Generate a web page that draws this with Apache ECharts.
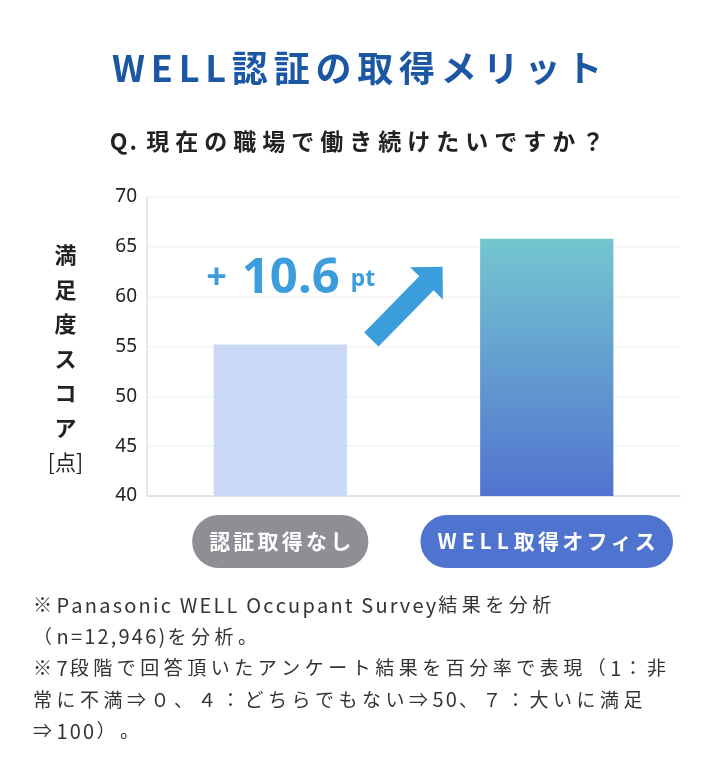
<!DOCTYPE html>
<html><head><meta charset="utf-8">
<script src="https://cdn.jsdelivr.net/npm/echarts@6/dist/echarts.min.js"></script>
<style>html,body{margin:0;padding:0;background:#fff}#c{width:720px;height:782px}</style>
</head><body><div id="c"></div>
<script>
const titleText = 'WELL認証の取得メリット';
const subtitleText = 'Q. 現在の職場で働き続けたいですか？';
const categories = ['認証取得なし', 'WELL取得オフィス'];
const values = [55.2, 65.8];
const yTicks = [40, 45, 50, 55, 60, 65, 70];
const yName = ['満', '足', '度', 'ス', 'コ', 'ア'];
const yUnit = '[点]';
const diffLabel = ['+', '10.6', 'pt'];
const notes = [
  '※Panasonic WELL Occupant Survey結果を分析',
  '（n=12,946)を分析。',
  '※7段階で回答頂いたアンケート結果を百分率で表現（1：非',
  '常に不満⇒０、４：どちらでもない⇒50、７：大いに満足',
  '⇒100）。'
];

// wrap every character in its own rich token so spacing (padding) applies per character;
// ASCII characters get their own style (different spacing)
function spaced(s, style, asciiStyle) {
  return Array.from(s).map(c => {
    const st = (asciiStyle && c.charCodeAt(0) < 128) ? asciiStyle : style;
    return '{' + st + '|' + c + '}';
  }).join('');
}
const JP = '"Noto Sans CJK JP", "Noto Sans", sans-serif';
const jpStyle = (size, weight, color, gap) =>
  ({fontFamily: JP, fontSize: size, fontWeight: weight, color: color, padding: [0, gap, 0, 0]});

const chart = echarts.init(document.getElementById('c'), null, {renderer: 'canvas'});
const pillBase = {fontFamily: JP, fontSize: 21, fontWeight: 'bold', color: '#fff',
  borderRadius: 27, padding: [16, 14, 16, 17]};
const option = {
  backgroundColor: '#ffffff',
  animation: false,
  title: [{
    text: spaced(titleText, 't'), left: 'center', top: 45,
    textStyle: {rich: {t: jpStyle(36, 'bold', '#1c57a3', 5.8)}}
  }, {
    text: spaced(subtitleText, 's', 'sa'), left: 'center', top: 125,
    textStyle: {rich: {s: jpStyle(23, 'bold', '#222', 6), sa: jpStyle(23, 'bold', '#222', 2)}}
  }],
  grid: {left: 147, right: 40, top: 197, bottom: 286},
  xAxis: {
    type: 'category',
    data: [
      {value: categories[0], textStyle: Object.assign({backgroundColor: '#8e8f94'}, pillBase)},
      {value: categories[1], textStyle: Object.assign({backgroundColor: '#4f74cf'}, pillBase)}
    ],
    axisLine: {lineStyle: {color: '#e2e4e8', width: 2}},
    axisTick: {show: false},
    axisLabel: {
      margin: 19, interval: 0,
      formatter: v => spaced(v, 'c', 'ca'),
      rich: {c: jpStyle(21, 'bold', '#fff', 3.2), ca: jpStyle(21, 'bold', '#fff', 5)}
    }
  },
  yAxis: {
    type: 'value', min: yTicks[0], max: yTicks[yTicks.length - 1], interval: 5,
    axisLine: {show: true, lineStyle: {color: '#e6e8ec', width: 2}},
    axisTick: {show: false},
    splitLine: {lineStyle: {color: '#f1f3f6', width: 1.5}},
    axisLabel: {fontFamily: '"Noto Sans", sans-serif', fontSize: 19, color: '#222', margin: 10},
    name: yName.map(c => '{n|' + c + '}').join('\n') + '\n{u|' + yUnit + '}',
    nameLocation: 'middle', nameRotate: 0, nameGap: 64,
    nameTextStyle: {
      padding: [24, 0, 0, 0],
      rich: {
        n: {fontFamily: JP, fontSize: 22, fontWeight: 'bold', color: '#222', lineHeight: 34.5, align: 'center'},
        u: {fontFamily: JP, fontSize: 21, fontWeight: 'normal', color: '#222', lineHeight: 34.5, align: 'center'}
      }
    }
  },
  series: [{
    type: 'bar', barWidth: '50%',
    data: [
      {value: values[0], itemStyle: {color: '#c9d8f7'}},
      {value: values[1], itemStyle: {color: new echarts.graphic.LinearGradient(0, 0, 0, 1, [
        {offset: 0, color: '#74c6d0'}, {offset: 1, color: '#5274d0'}])}}
    ]
  }]
};
chart.setOption(option);

// annotation and arrow anchored to the bar positions
const p0 = chart.convertToPixel({seriesIndex: 0}, [0, values[0]]);
const p1 = chart.convertToPixel({seriesIndex: 0}, [1, values[1]]);
const dx = p1[0] - p0[0];
const tail = [p0[0] + 0.342 * dx, p0[1] - 5];
const tip = [p0[0] + 0.609 * dx, p1[1] + 28];
const L = Math.hypot(tip[0] - tail[0], tip[1] - tail[1]);
const d = [(tip[0] - tail[0]) / L, (tip[1] - tail[1]) / L];
const n = [-d[1], d[0]];
const hl = 23, hw = 23, sw = 10;
const B = [tip[0] - hl * d[0], tip[1] - hl * d[1]];
const pt = (c, k) => [c[0] + k * n[0], c[1] + k * n[1]];
const arrowPts = [pt(tail, sw), pt(B, sw), pt(B, hw), tip, pt(B, -hw), pt(B, -sw), pt(tail, -sw)];

const SANS = '"Noto Sans", sans-serif';
chart.setOption({graphic: [{
  type: 'text', left: 33, top: 595,
  style: {
    text: notes.map(l => spaced(l, 'f', 'fa')).join('\n'),
    rich: {
      f: {font: '19px ' + JP, fill: '#333', padding: [0, 4.5, 0, 0], lineHeight: 31.5},
      fa: {font: '20px ' + JP, fill: '#333', padding: [0, 2.2, 0, 0], lineHeight: 31.5}
    }
  }
}, {
  type: 'polygon', shape: {points: arrowPts}, style: {fill: '#3b9ddc'}
}, {
  type: 'text', x: p0[0] - 74, y: p0[1] - 41,
  style: {
    text: '{p|' + diffLabel[0] + '}{v|' + diffLabel[1] + '}{u|' + diffLabel[2] + '}',
    verticalAlign: 'bottom',
    rich: {
      p: {font: 'bold 36px ' + SANS, fill: '#3b9ddc', padding: [0, 15, 0, 0]},
      v: {font: 'bold 49px ' + SANS, fill: '#3b9ddc', padding: [0, 11, 0, 0]},
      u: {font: 'bold 23px ' + SANS, fill: '#3b9ddc'}
    }
  }
}]});
</script></body></html>
